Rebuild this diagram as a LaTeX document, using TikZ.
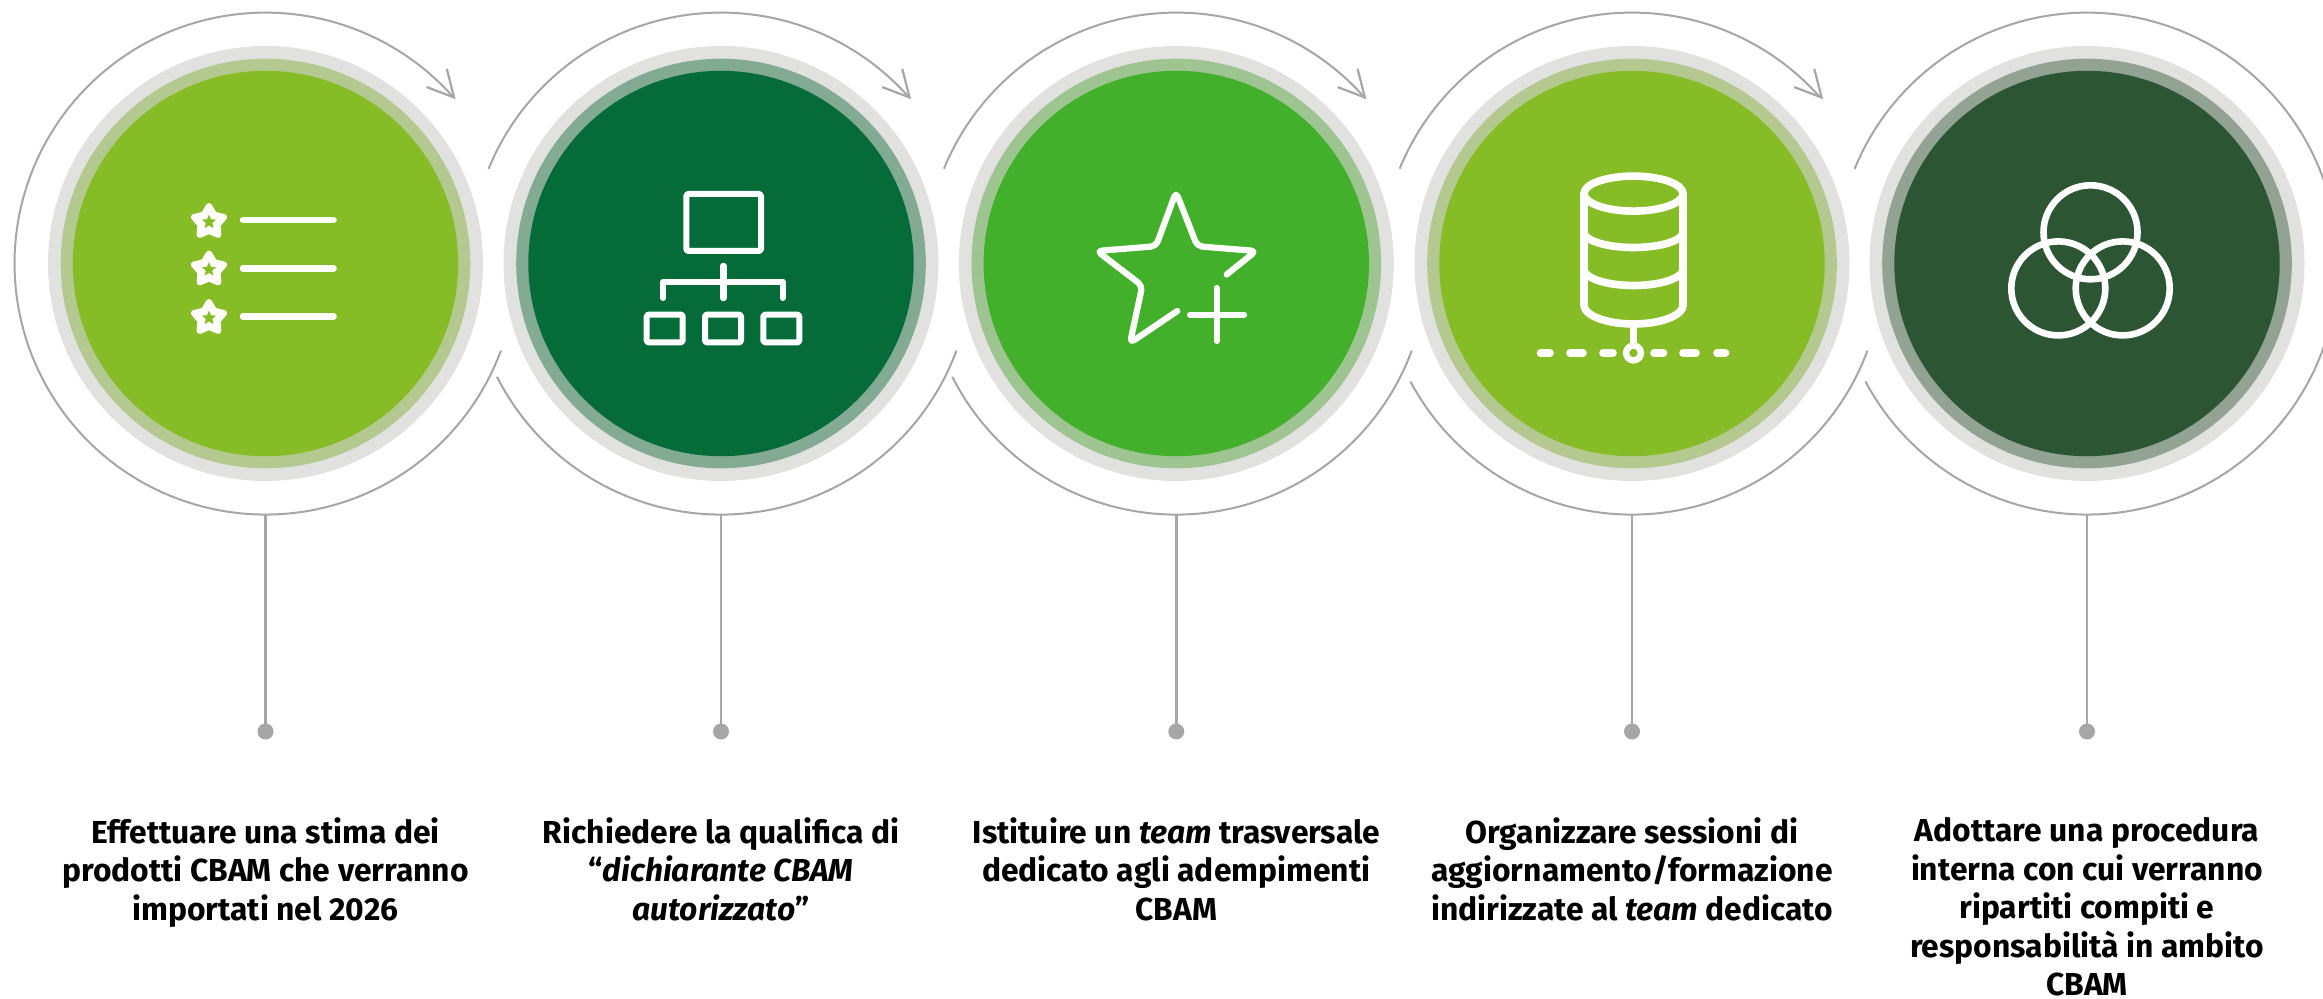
\documentclass[tikz,border=0pt]{standalone}
\usepackage{fontspec}
\setmainfont{Fira Sans}
\definecolor{gr}{HTML}{A6A6A6}
\definecolor{halo}{HTML}{E1E1DF}
\definecolor{lime}{HTML}{86BC25}
\definecolor{limer}{HTML}{B3C98F}
\definecolor{deep}{HTML}{046B39}
\definecolor{deepr}{HTML}{83AA93}
\definecolor{mid}{HTML}{42B02A}
\definecolor{midr}{HTML}{9DC491}
\definecolor{forest}{HTML}{2C5533}
\definecolor{forestr}{HTML}{92A293}
\newcommand{\starpts}[2]{(-90:#1)--(-54:#2)--(-18:#1)--(18:#2)--(54:#1)--(90:#2)--(126:#1)--(162:#2)--(198:#1)--(234:#2)--cycle}
\newcommand{\ring}[4]{% name, cx, ring colour, fill
  \node[disc,minimum size=217.5pt,fill=halo] (h#1) at (#2,263.5) {};
  \node[disc,minimum size=204.8pt,fill=#3] (r#1) at (#2,263.5) {};
  \node[disc,minimum size=192.7pt,fill=#4] (c#1) at (#2,263.5) {};
  \coordinate (t#1) at (#2,515);
  \node[dotn] (d#1) at (#2,731.5) {};
  \draw[stem] (t#1) -- (d#1);
}
\newcommand{\arcpart}[3]{\draw[arcl] plot[domain=#2:#3,samples=150] ({#1+251*cos(\x)},{263.6+251*sin(\x)});}
\newcommand{\arrowhd}[1]{\coordinate (tip) at (#1+188.6,97.5);
  \draw[arcl,line width=1.1pt] (tip)++(-7.3,-28.6) -- (tip) -- ++(-27.3,-10.4);}
\tikzset{
  disc/.style={circle,inner sep=0pt,outer sep=0pt,draw=none},
  dotn/.style={circle,inner sep=0pt,outer sep=0pt,minimum size=8pt,fill=gr},
  stem/.style={draw=gr,line width=1.2pt},
  arcl/.style={draw=gr,line width=1pt},
  ic/.style={draw=white,line width=3.3pt,line cap=round,line join=round},
  lab/.style={anchor=north,align=center,font=\fontsize{15.9}{19.25}\selectfont\bfseries,text=black,inner sep=0pt}
}
\begin{document}
\begin{tikzpicture}[x=.5pt,y=-.5pt]
\clip (0,0) rectangle (2323,999);
\fill[white] (0,0) rectangle (2323,999);
% discs
\ring{1}{265.5}{limer}{lime}
\ring{2}{721}{deepr}{deep}
\ring{3}{1176.3}{midr}{mid}
\ring{4}{1632}{limer}{lime}
\ring{5}{2087}{forestr}{forest}
% arcs
\arcpart{265.5}{20.3}{318.6}
\arrowhd{265.5}
\arcpart{721}{20.3}{153.2}
\arcpart{721}{202.2}{318.6}
\arrowhd{721}
\arcpart{1176.3}{20.3}{153.2}
\arcpart{1176.3}{202.2}{318.6}
\arrowhd{1176.3}
\arcpart{1632}{20.3}{152}
\arcpart{1632}{202.2}{318.6}
\arrowhd{1633}
\arcpart{2087}{202.2}{512}
% icon 1
\foreach \yy/\ly in {222/220,269.5/268.5,318/316.5}{
  \begin{scope}[shift={(209,\yy)}]
    \fill[white,draw=white,line width=3pt,line join=round] \starpts{16}{9};
    \fill[lime] \starpts{7.5}{3.4};
  \end{scope}
  \draw[ic] (243,\ly) -- (333.5,\ly);
}
% icon 2
\draw[ic,line width=3pt,line cap=butt,rounded corners=.8pt] (686.3,194) rectangle (761,251);
\draw[ic] (723.3,266) -- (723.3,298);
\draw[ic,line width=3pt] (663.3,298) -- (663.3,281.7) -- (782.7,281.7) -- (782.7,298);
\foreach \xa/\xb in {646.7/682.7,705/741,763.3/799.3}
  \draw[ic,line width=3pt,line cap=butt,rounded corners=.8pt] (\xa,314.6) rectangle (\xb,342.4);
% icon 3
\draw[ic,line width=3.1pt,rounded corners=2.5pt] (1177.3,311) -- (1130,343) -- (1142.3,285.8) -- (1097,251) -- (1156,246.2) -- (1176,192) -- (1197.3,246.2) -- (1256,251) -- (1226.7,274.5);
\draw[ic,line width=3.1pt] (1216.7,288) -- (1216.7,341);
\draw[ic,line width=3.1pt] (1190,314.7) -- (1244,314.7);
% icon 4
\begin{scope}[ic,line width=3.8pt]
\draw (1633.5,193.6) ellipse [x radius=24.75pt,y radius=8.75pt];
\draw (1584,193.6) -- (1584,305) plot[domain=180:0,samples=40] ({1633.5+49.5*cos(\x)},{305+19*sin(\x)}) -- (1683,193.6);
\draw plot[domain=180:0,samples=40] ({1633.5+49.5*cos(\x)},{232+15.5*sin(\x)});
\draw plot[domain=180:0,samples=40] ({1633.5+49.5*cos(\x)},{269+16.5*sin(\x)});
\draw (1633.5,324) -- (1633.5,345);
\draw[line width=3.2pt] (1633.5,353) circle[radius=3.7pt];
\foreach \xa/\xb in {1540.5/1550,1570/1583,1603/1613,1654/1663.5,1683/1696,1717/1725.5}
  \draw (\xa,353) -- (\xb,353);
\end{scope}
% icon 5
\draw[ic] (2090.5,232.3) circle[radius=23.5pt];
\draw[ic] (2058.3,288.4) circle[radius=23.5pt];
\draw[ic] (2122.7,288.4) circle[radius=23.5pt];
% labels
\node[lab] (l1) at (265.5,817) {Effettuare una stima dei\\prodotti CBAM che verranno\\importati nel 2026};
\node[lab] (l2) at (721,817) {Richiedere la qualifica di\\“\textit{dichiarante CBAM}\\\textit{autorizzato}”};
\node[lab] (l3) at (1176.3,817) {Istituire un \textit{team} trasversale\\dedicato agli adempimenti\\CBAM};
\node[lab] (l4) at (1632,817) {Organizzare sessioni di\\aggiornamento/formazione\\indirizzate al \textit{team} dedicato};
\node[lab] (l5) at (2087,817) {Adottare una procedura\\interna con cui verranno\\ripartiti compiti e\\responsabilità in ambito\\CBAM};
\end{tikzpicture}
\end{document}
